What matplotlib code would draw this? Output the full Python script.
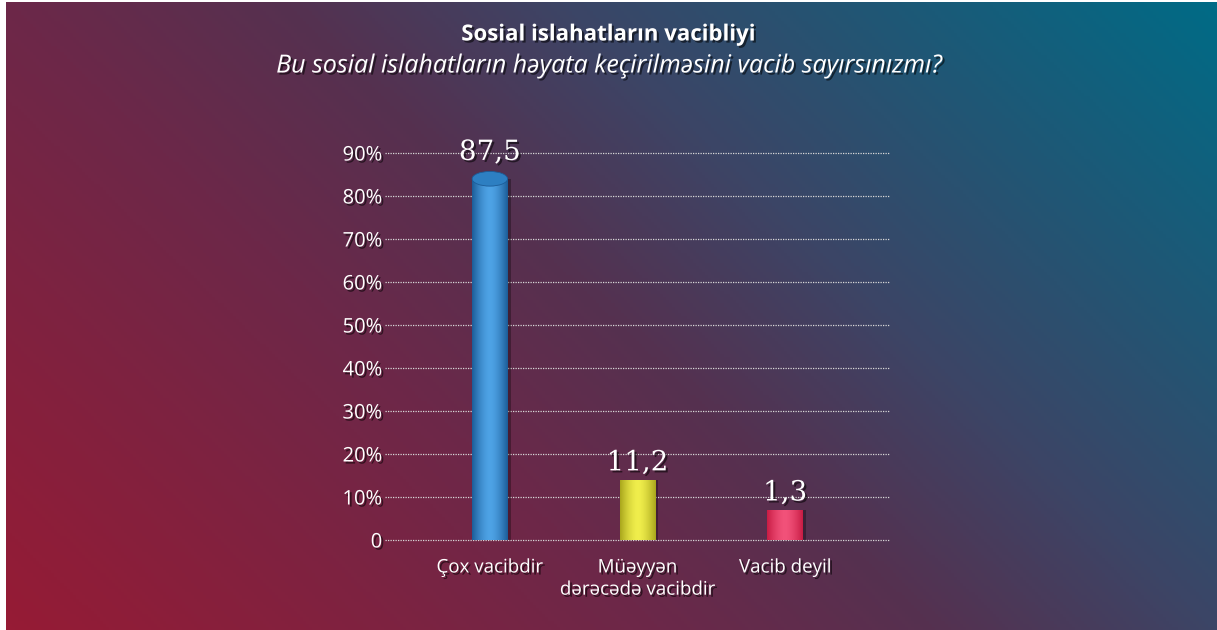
import numpy as np
import matplotlib
matplotlib.use("Agg")
import matplotlib.pyplot as plt
from matplotlib.colors import LinearSegmentedColormap
from matplotlib.patches import Ellipse
import matplotlib.patheffects as pe

# data
categories = ["Çox vacibdir", "Müəyyən\ndərəcədə vacibdir", "Vacib deyil"]
value_labels = ["87,5", "11,2", "1,3"]
bar_heights = [84, 14, 7]          # heights as drawn in the original
y_ticks = [0, 10, 20, 30, 40, 50, 60, 70, 80, 90]
y_tick_labels = ["0", "10%", "20%", "30%", "40%", "50%", "60%", "70%", "80%", "90%"]
bar_colors = [("#1c5c98", "#4ea3e6"), ("#a9a61c", "#f0ee4c"), ("#c81c44", "#f2527a")]

title = "Sosial islahatların vacibliyi"
subtitle = "Bu sosial islahatların həyata keçirilməsini vacib sayırsınızmı?"

plt.rcParams["font.family"] = ["Open Sans", "DejaVu Sans"]

W, H = 1217, 630
fig = plt.figure(figsize=(W / 100, H / 100), dpi=100, facecolor="white")

# gradient background
bg = fig.add_axes([6 / W, 0, 1 - 6 / W, 1 - 2 / H])
bg.set_axis_off()
xx, yy = np.meshgrid(np.linspace(0, 1, 400), np.linspace(0, 1, 200))
t = 0.65 * xx + 0.35 * yy
bg_cmap = LinearSegmentedColormap.from_list(
    "bg", [(0, "#961b35"), (0.35, "#6c2849"), (0.5, "#553150"), (0.65, "#3c4566"), (1, "#006b86")])
bg.imshow(t, cmap=bg_cmap, origin="lower", aspect="auto", extent=[0, 1, 0, 1], vmin=0, vmax=1)
bg.set_xlim(0, 1)
bg.set_ylim(0, 1)

shadow = [pe.withSimplePatchShadow(offset=(1.5, -1.5), shadow_rgbFace="black", alpha=0.55)]

fig.text(0.5, 1 - 35 / H, title, color="white", fontsize=16, fontweight="bold",
         ha="center", va="center", path_effects=shadow)
fig.text(0.5, 1 - 66 / H, subtitle, color="white", fontsize=18, fontstyle="italic",
         ha="center", va="center", path_effects=shadow)

ax = fig.add_axes([385 / W, 1 - 540 / H, (890 - 385) / W, (540 - 153) / H])
ax.patch.set_alpha(0)
for s in ax.spines.values():
    s.set_visible(False)
ax.set_xlim(-0.71, 2.71)
ax.set_ylim(0, 90)
ax.set_yticks(y_ticks)
ax.set_yticklabels(y_tick_labels)
ax.tick_params(axis="y", length=0, pad=2, labelsize=14.5, labelcolor="white")
ax.tick_params(axis="x", length=0)
ax.set_xticks([])
for lab in ax.get_yticklabels():
    lab.set_path_effects(shadow)
for v in y_ticks:
    ax.axhline(v, color="#d8d8d8", lw=0.9, ls=(0, (1, 1)), zorder=1, clip_on=False)

x = np.arange(len(categories))
bw = 0.24
grad = np.abs(np.linspace(-1, 1, 100)) ** 1.6
grad = grad[np.newaxis, :]
for i, (h, (dark, light)) in enumerate(zip(bar_heights, bar_colors)):
    ax.bar(x[i] + 0.02, h, width=bw, color="black", alpha=0.3, zorder=2)
    bar = ax.bar(x[i], h, width=bw, color=light, zorder=3)[0]
    cm = LinearSegmentedColormap.from_list("b%d" % i, [light, dark])
    im = ax.imshow(grad, cmap=cm, aspect="auto", extent=[x[i] - bw / 2, x[i] + bw / 2, 0, h],
                   zorder=4, vmin=0, vmax=1)
    im.set_clip_path(bar)
    if h > 30:
        ax.add_patch(Ellipse((x[i], h), bw, 3.4, facecolor="#2d7fc2", edgecolor="#1c5c98",
                             lw=0.6, zorder=5))
        ty = h + 3.0
    else:
        ty = h + 0.8
    ax.text(x[i], ty, value_labels[i], ha="center", va="bottom", color="white",
            fontsize=20, family="DejaVu Serif", path_effects=shadow, zorder=6)
    ax.text(x[i], -4.3, categories[i], ha="center", va="top", color="white", fontsize=13.5,
            linespacing=1.3, path_effects=shadow, clip_on=False)

fig.savefig("out.png", dpi=100, facecolor="white")
